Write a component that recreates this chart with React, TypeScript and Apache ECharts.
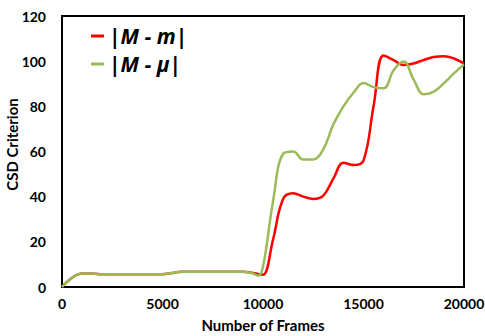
import React, { useEffect, useRef } from "react";
import * as echarts from "echarts";

const frames = [0, 1000, 1500, 2000, 3000, 4000, 5000, 6000, 7000, 8000, 9000, 9500, 9750, 10000, 10500, 11000, 11500, 12000, 12500, 13000, 13500, 14000, 14500, 15000, 15500, 16000, 16500, 17000, 17500, 18000, 18500, 19000, 19500, 20000];
const mMinusM = [0, 6, 6, 5.6, 5.6, 5.6, 5.7, 6.7, 6.8, 6.8, 6.7, 6.2, 5.8, 5.4, 21, 39, 41.5, 40, 39, 40.5, 48, 55, 54, 56, 80, 102.5, 100.5, 98.3, 99, 100.5, 101.8, 102.2, 101.2, 99];
const mMinusMu = [0, 6, 6, 5.6, 5.6, 5.6, 5.7, 6.7, 6.8, 6.8, 6.7, 6, 5, 9, 38, 59, 60, 56.5, 56.5, 61, 72, 80, 86, 90.3, 88.5, 88, 96, 99.8, 91.7, 85.3, 86.5, 90.2, 94.6, 98.5];
const seriesNames = ["|M - m|", "|M - μ|"];
const yTicks = [0, 20, 40, 60, 80, 100, 120];

const font = "Lato, 'Open Sans', sans-serif";

export default function App() {
  const ref = useRef<HTMLDivElement>(null);
  useEffect(() => {
    if (!ref.current) return;
    const chart = echarts.init(ref.current, undefined, { renderer: "svg" });
    chart.setOption({
      animation: false,
      grid: { left: 62, right: 21, top: 16, bottom: 49, show: true, borderColor: "#000", borderWidth: 2, containLabel: false, outerBoundsMode: "none" },
      legend: {
        orient: "vertical",
        left: 86,
        top: 19,
        icon: "rect",
        itemWidth: 13,
        itemHeight: 3,
        itemGap: 4,
        textStyle: { fontSize: 21, lineHeight: 24, fontStyle: "italic", fontWeight: "bold", fontFamily: "'Open Sans', sans-serif", color: "#000" },
        data: seriesNames,
      },
      xAxis: {
        type: "value",
        min: 0,
        max: 20000,
        interval: 5000,
        name: "Number of Frames",
        nameLocation: "middle",
        nameGap: 30,
        nameMoveOverlap: false,
        nameTextStyle: { fontSize: 15, fontWeight: "bold", fontFamily: font, color: "#000" },
        axisLine: { show: true, lineStyle: { color: "#000", width: 2 } },
        axisTick: { show: false },
        splitLine: { show: false },
        axisLabel: { fontSize: 14, fontWeight: "bold", fontFamily: font, color: "#000", margin: 9, formatter: (v: number) => String(v) },
      },
      yAxis: {
        type: "value",
        min: yTicks[0],
        max: yTicks[yTicks.length - 1],
        interval: 20,
        name: "CSD Criterion",
        nameLocation: "middle",
        nameGap: 43,
        nameMoveOverlap: false,
        nameTextStyle: { fontSize: 15, fontWeight: "bold", fontFamily: font, color: "#000", padding: [0, 0, 0, 14] },
        axisLine: { show: true, lineStyle: { color: "#000", width: 2 } },
        axisTick: { show: false },
        splitLine: { show: false },
        axisLabel: { fontSize: 14, fontWeight: "bold", fontFamily: font, color: "#000", margin: 16 },
      },
      series: [
        {
          name: seriesNames[0],
          type: "line",
          smooth: 0.4,
          showSymbol: false,
          data: frames.map((f, i) => [f, mMinusM[i]]),
          itemStyle: { color: "#FF0000" },
          lineStyle: { color: "#FF0000", width: 2.5 },
        },
        {
          name: seriesNames[1],
          type: "line",
          smooth: 0.4,
          showSymbol: false,
          data: frames.map((f, i) => [f, mMinusMu[i]]),
          itemStyle: { color: "#9BBB59" },
          lineStyle: { color: "#9BBB59", width: 2.5 },
        },
      ],
    });
    return () => chart.dispose();
  }, []);
  return <div ref={ref} style={{ width: 485, height: 336, position: "absolute", left: 0, top: 0 }} />;
}
